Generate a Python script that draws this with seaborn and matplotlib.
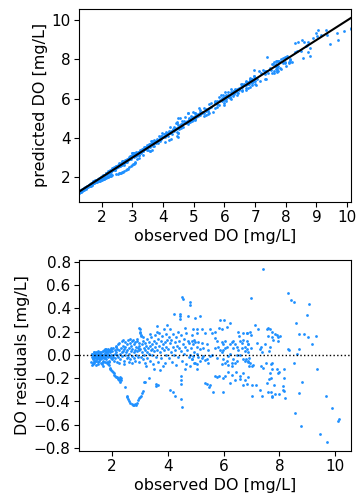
import numpy as np
import pandas as pd
import matplotlib
matplotlib.use('Agg')
import matplotlib.pyplot as plt
import seaborn as sns

low_obs = [1.26, 1.27, 1.28, 1.29, 1.30, 1.31, 1.32, 1.33, 1.34, 1.35, 1.36, 1.37, 1.38, 1.39, 1.40,
           1.41, 1.42, 1.43, 1.44, 1.45, 1.46, 1.47, 1.48, 1.49, 1.50, 1.51, 1.52, 1.53, 1.54, 1.55,
           1.56, 1.57, 1.58, 1.60, 1.61, 1.62, 1.63, 1.64, 1.65, 1.66, 1.67, 1.68, 1.69, 1.70, 1.71,
           1.72, 1.73, 1.74, 1.75, 1.76, 1.77, 1.78, 1.79, 1.80, 1.81, 1.82, 1.84, 1.85, 1.87, 1.88,
           1.90, 1.92, 1.93, 1.95, 1.97, 1.98, 1.99,
           1.27, 1.30, 1.33, 1.36, 1.39, 1.42, 1.45, 1.48, 1.51, 1.54, 1.57, 1.60, 1.63, 1.66, 1.69,
           1.72, 1.75, 1.78, 1.81, 1.84, 1.87, 1.90, 1.93, 1.96]
low_res = [-0.06, -0.09, -0.02, 0.01, -0.04, -0.08, 0.00, -0.03, 0.02, -0.05, -0.01, -0.07, 0.01, -0.03, -0.02,
           0.02, -0.05, -0.09, 0.00, -0.03, 0.01, -0.04, -0.02, 0.02, -0.06, -0.01, 0.01, -0.03, -0.05, 0.00,
           -0.02, 0.02, -0.04, -0.01, -0.07, 0.01, -0.03, -0.08, -0.02, 0.03, -0.05, 0.00, -0.10, -0.02, 0.04,
           -0.03, 0.05, 0.01, -0.06, 0.03, -0.01, 0.05, -0.04, 0.02, -0.07, 0.00, 0.03, -0.02, 0.01, -0.05,
           0.04, -0.01, 0.02, -0.03, 0.05, 0.00, -0.04,
           0.01, -0.03, -0.07, 0.02, -0.05, 0.00, -0.02, -0.08, 0.03, -0.01, -0.04, 0.02, 0.00, -0.06, 0.03,
           0.01, -0.03, 0.04, 0.02, -0.01, 0.05, -0.06, 0.03, 0.06]

arm_obs = [1.83, 1.86, 1.89, 1.91, 1.94, 1.97, 2.00, 2.03, 2.06, 2.08, 2.11, 2.14, 2.17, 2.20, 2.22,
           2.25, 2.27, 2.29, 2.31, 2.33, 2.30, 2.45, 2.52, 2.55, 2.58, 2.62, 2.66, 2.70, 2.74, 2.78,
           2.82, 2.86, 2.90, 2.94, 2.98, 3.01, 3.04, 3.07, 3.10, 3.16]
arm_res = [-0.06, -0.08, -0.09, -0.11, -0.12, -0.13, -0.14, -0.15, -0.16, -0.17, -0.18, -0.19, -0.19, -0.20, -0.21,
           -0.22, -0.21, -0.23, -0.22, -0.20, -0.19, -0.28, -0.35, -0.36, -0.38, -0.40, -0.41, -0.42, -0.43, -0.43,
           -0.42, -0.43, -0.41, -0.39, -0.37, -0.36, -0.35, -0.33, -0.31, -0.23]

mid1_obs = [2.01, 2.02, 2.04, 2.05, 2.07, 2.09, 2.10, 2.12, 2.13, 2.15, 2.16, 2.18, 2.19, 2.21, 2.23,
            2.24, 2.26, 2.28, 2.30, 2.32, 2.34, 2.35, 2.37, 2.38, 2.40, 2.42, 2.43, 2.45, 2.47, 2.48,
            2.50, 2.52, 2.53, 2.55, 2.57, 2.58, 2.60, 2.62, 2.63, 2.65, 2.67, 2.68, 2.70, 2.72, 2.73,
            2.75, 2.77, 2.78, 2.80, 2.82, 2.83, 2.85, 2.87, 2.88, 2.90, 2.92, 2.93, 2.95, 2.97, 2.98,
            2.26, 2.44, 2.61, 2.71, 2.84, 2.96, 2.14, 2.39, 2.66, 2.91]
mid1_res = [0.03, -0.02, 0.06, 0.00, -0.05, 0.04, 0.01, -0.03, 0.07, 0.02, -0.06, 0.05, 0.00, 0.09, -0.02,
            0.04, 0.10, 0.01, -0.04, 0.06, 0.02, 0.12, -0.01, 0.08, 0.03, -0.05, 0.05, 0.11, 0.00, 0.07,
            0.02, -0.03, 0.09, 0.04, 0.13, -0.02, 0.06, 0.01, 0.10, -0.04, 0.03, 0.08, 0.12, -0.01, 0.05,
            0.13, 0.02, 0.09, -0.03, 0.04, 0.11, 0.07, 0.00, 0.12, 0.03, 0.06, -0.02, 0.10, 0.04, 0.08,
            -0.07, -0.08, -0.06, -0.07, -0.05, -0.06, 0.08, 0.13, 0.14, 0.14]

mid2_obs = [2.98, 3.00, 3.01, 3.02, 3.03, 3.05,
            3.02, 3.04, 3.06, 3.08, 3.10, 3.12, 3.13, 3.15, 3.17, 3.19, 3.20, 3.22, 3.24, 3.26, 3.27,
            3.29, 3.31, 3.33, 3.35, 3.36, 3.38, 3.40, 3.42, 3.44, 3.45, 3.47, 3.49, 3.51, 3.53, 3.55,
            3.56, 3.58, 3.60, 3.62, 3.64, 3.66, 3.68, 3.70, 3.72, 3.74, 3.76, 3.78, 3.80, 3.82, 3.84,
            3.86, 3.88, 3.90, 3.92, 3.94, 3.96, 3.98,
            3.11, 3.37, 3.63, 3.93, 3.23, 3.52, 3.71, 3.89, 3.57, 3.59, 3.33, 3.65, 3.20]
mid2_res = [0.23, 0.22, 0.20, 0.19, 0.17, 0.16,
            0.05, -0.02, 0.09, 0.02, 0.12, -0.04, 0.06, 0.00, 0.10, 0.04, -0.07, 0.08, 0.02, 0.14, -0.03,
            0.06, 0.11, 0.01, 0.08, -0.05, 0.04, 0.15, 0.00, 0.09, 0.05, -0.08, 0.12, 0.03, 0.17, 0.07,
            -0.02, 0.10, 0.25, 0.04, 0.14, -0.06, 0.08, 0.19, 0.02, 0.12, -0.03, 0.06, 0.16, 0.09, -0.10,
            0.04, 0.22, 0.11, 0.00, 0.07, 0.26, 0.13,
            0.15, 0.18, 0.20, 0.18, -0.10, -0.12, -0.13, -0.07, -0.25, -0.27, -0.20, -0.26, -0.23]

mid3_obs = [4.01, 4.03, 4.05, 4.07, 4.09, 4.11, 4.13, 4.15, 4.17, 4.19, 4.21, 4.23, 4.25, 4.27, 4.29,
            4.31, 4.33, 4.35, 4.37, 4.39, 4.41, 4.43, 4.44, 4.45, 4.46, 4.48, 4.50, 4.52, 4.54, 4.55,
            4.57, 4.59, 4.61, 4.63, 4.65, 4.67, 4.69, 4.71, 4.73, 4.75, 4.77, 4.80, 4.81, 4.83, 4.85,
            4.87, 4.89, 4.91, 4.93, 4.95, 4.97, 4.99,
            4.07, 4.19, 4.27, 4.47, 4.48, 4.49, 4.47, 4.50, 4.60, 4.80]
mid3_res = [0.05, 0.15, -0.03, 0.10, 0.22, 0.02, 0.13, -0.06, 0.07, 0.18, 0.35, 0.00, 0.11, 0.04, -0.09,
            0.15, 0.08, 0.20, -0.02, 0.12, 0.06, 0.33, 0.35, 0.31, 0.03, 0.17, 0.50, -0.05, 0.09, 0.48,
            0.14, 0.01, 0.23, 0.07, -0.08, 0.19, 0.04, 0.12, 0.33, -0.02, 0.10, 0.45, 0.43, 0.06, 0.17,
            -0.04, 0.09, 0.22, 0.02, 0.13, 0.32, -0.07,
            -0.30, -0.32, -0.35, -0.18, -0.22, -0.25, -0.38, -0.45, -0.12, -0.10]

mid4_obs = [5.17, 5.03, 5.05, 5.21, 5.33, 5.89, 6.01, 6.23, 5.84, 5.96, 6.11, 5.51, 5.57, 5.69, 6.53,
            6.56, 6.71, 6.85,
            4.85, 4.97, 5.09, 5.21, 5.39, 5.27, 5.45, 5.03, 5.15,
            5.69, 5.75, 5.93, 5.99, 6.05, 6.11, 5.81, 5.87, 5.69, 5.99, 6.05, 6.23, 6.29, 6.35, 6.41,
            6.47, 6.59, 6.65, 6.71, 6.77, 6.83, 6.89, 6.35, 6.53, 6.65,
            4.79, 4.91, 5.03, 5.09, 5.21, 5.27, 5.39, 5.51, 5.57, 5.75, 5.93, 6.17, 6.23, 6.35, 6.47,
            6.59, 6.77, 6.89,
            4.85, 4.93, 5.03, 5.15, 5.05, 5.33, 5.45, 5.99, 6.05, 6.11, 6.17, 5.93, 6.29, 6.32, 6.41,
            6.47, 6.71, 6.77, 6.89, 6.92,
            5.69, 5.77, 5.84, 5.99, 6.05, 6.17, 6.29, 6.44, 6.59, 6.71, 6.77,
            5.33, 5.41, 5.48, 5.51, 5.63, 5.99, 6.23, 6.41, 6.59, 6.83, 6.71]
mid4_res = [0.33, 0.22, 0.19, 0.22, 0.19, 0.30, 0.30, 0.27, 0.23, 0.22, 0.24, 0.22, 0.19, 0.20, 0.20,
            0.165, 0.19, 0.19,
            0.12, 0.11, 0.11, 0.10, 0.09, 0.06, 0.04, 0.07, 0.05,
            0.145, 0.12, 0.11, 0.09, 0.12, 0.07, 0.07, 0.045, 0.06, 0.045, 0.06, 0.09, 0.11, 0.12, 0.09,
            0.07, 0.12, 0.10, 0.13, 0.07, 0.12, 0.09, 0.06, 0.045, 0.06,
            0.00, -0.01, 0.01, -0.02, -0.03, -0.01, -0.04, -0.01, 0.00, -0.03, 0.02, -0.01, 0.01, -0.04, 0.00,
            0.00, 0.03, 0.02,
            -0.04, -0.07, -0.08, -0.05, -0.12, -0.045, -0.07, -0.04, -0.07, -0.05, -0.09, -0.08, -0.07, -0.10, -0.07,
            -0.05, -0.04, -0.05, -0.06, -0.03,
            -0.18, -0.19, -0.18, -0.20, -0.18, -0.15, -0.17, -0.15, -0.18, -0.16, -0.22,
            -0.24, -0.25, -0.28, -0.26, -0.32, -0.32, -0.24, -0.22, -0.21, -0.25, -0.26]

mid5_obs = [6.79, 6.87, 6.95, 7.01, 7.07, 7.34, 7.43, 7.51, 7.70, 7.75, 7.91, 7.73, 7.67, 7.70, 7.63,
            7.55, 7.81, 7.97, 7.99, 8.15, 8.15, 8.51, 8.80, 6.89, 7.01, 7.17, 7.31, 6.91, 7.03, 7.37,
            7.70, 7.73, 7.61, 7.75, 7.85, 8.00, 8.12, 8.12, 8.15, 8.21, 8.57, 8.71,
            7.40, 6.97, 8.30, 8.41, 8.53, 8.59, 8.88, 8.71, 7.13, 7.25, 6.83, 6.95, 6.97, 7.55, 7.61,
            7.67, 7.73, 7.58, 7.75, 7.85, 7.91, 7.97, 8.03, 7.97, 7.79, 6.89, 7.19, 7.34, 7.49, 7.67,
            7.64, 7.31, 7.37, 6.99, 6.83, 8.30, 8.36, 8.65, 8.69]
mid5_res = [-0.04, -0.05, -0.07, -0.10, -0.09, -0.10, -0.11, -0.07, -0.08, -0.07, -0.12, -0.125, -0.16, -0.20, -0.21,
            -0.24, -0.26, -0.16, -0.15, -0.125, -0.20, -0.07, -0.23, -0.19, -0.26, -0.26, -0.30, -0.10, -0.35, -0.35,
            -0.32, -0.36, -0.32, -0.35, -0.34, -0.34, -0.27, -0.30, -0.31, -0.37, -0.50, -0.33,
            0.74, 0.49, 0.53, 0.47, 0.45, 0.27, 0.18, 0.18, 0.26, 0.22, 0.19, 0.20, 0.17, 0.22, 0.23,
            0.22, 0.20, 0.16, 0.15, 0.18, 0.17, 0.15, 0.16, 0.12, 0.13, 0.09, 0.10, 0.07, 0.09, 0.07,
            0.03, 0.05, 0.02, 0.06, 0.05, 0.05, 0.04, 0.01, 0.05]

high_obs = [9.06, 8.98, 9.02, 9.32, 9.16, 9.35, 8.78, 9.68, 9.89, 10.14, 10.12, 9.45, 9.71]
high_res = [0.44, 0.34, 0.15, 0.16, 0.09, -0.12, -0.61, -0.35, -0.46, -0.55, -0.57, -0.68, -0.75]

observed = np.array(low_obs + arm_obs + mid1_obs + mid2_obs + mid3_obs + mid4_obs + mid5_obs + high_obs)
residual = np.array(low_res + arm_res + mid1_res + mid2_res + mid3_res + mid4_res + mid5_res + high_res)
df = pd.DataFrame({'observed': observed, 'residual': residual})
df['predicted'] = df['observed'] + df['residual']

plt.rcParams['font.family'] = ['DejaVu Sans']
plt.rcParams['font.size'] = 11.5
plt.rcParams['xtick.labelsize'] = 11
plt.rcParams['ytick.labelsize'] = 11
plt.rcParams['xtick.major.pad'] = 2.5
plt.rcParams['ytick.major.pad'] = 2.5
plt.rcParams['axes.labelpad'] = 2.5

fig = plt.figure(figsize=(3.56, 4.95), dpi=100)
ax1 = fig.add_axes([0.222, 0.592, 0.765, 0.390])
ax2 = fig.add_axes([0.222, 0.089, 0.765, 0.386])

pt_color = '#1e90ff'

# predicted vs observed
sns.scatterplot(data=df, x='observed', y='predicted', ax=ax1, color=pt_color,
                s=4, linewidth=0)
sns.regplot(data=df, x='observed', y='predicted', ax=ax1, scatter=False, ci=None,
            color='k', line_kws={'lw': 1.5})
ax1.set_xlim(df['observed'].min(), df['observed'].max())
ax1.set_xticks(range(2, 11))
ax1.set_xlabel('observed DO [mg/L]')
ax1.set_ylabel('predicted DO [mg/L]')

# residuals
sns.scatterplot(data=df, x='observed', y='residual', ax=ax2, color=pt_color,
                s=4, linewidth=0)
ax2.axhline(0, color='k', ls=':', lw=1)
ax2.set_yticks(np.arange(-0.8, 0.81, 0.2))
ax2.set_xlabel('observed DO [mg/L]')
ax2.set_ylabel('DO residuals [mg/L]')

fig.savefig('out.png', dpi=100)
